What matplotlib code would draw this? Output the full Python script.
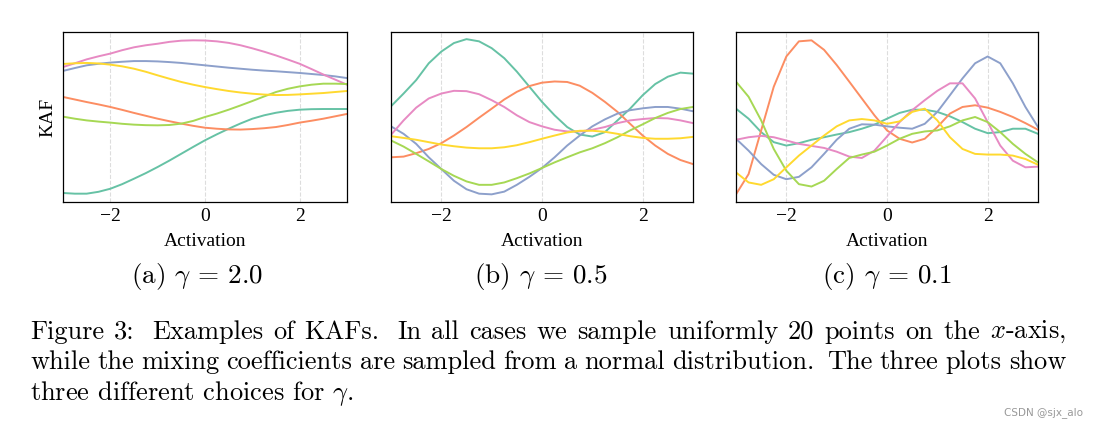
import numpy as np
import matplotlib
matplotlib.use("Agg")
import matplotlib.pyplot as plt

plt.rcParams['mathtext.fontset'] = 'cm'
plt.rcParams['axes.unicode_minus'] = True

# sampled x positions (read every 0.25 on the Activation axis)
x_vals = np.linspace(-3, 3, 25)

colors = ['#66c2a5', '#fc8d62', '#8da0cb', '#e78ac3', '#a6d854', '#ffd92f']

# panel (a) gamma = 2.0 -- values on a 0..100 scale of the box height
a_teal = [5.3, 4.9, 4.9, 6.0, 7.8, 10.5, 13.7, 17.0, 20.6, 24.4, 28.4, 32.4, 36.3,
          39.8, 43.1, 46.2, 49.0, 51.0, 52.5, 53.6, 54.3, 54.6, 54.7, 54.7, 54.7]
a_orange = [61.8, 60.3, 58.8, 57.4, 55.9, 54.2, 52.4, 50.7, 49.0, 47.5, 46.1, 44.8, 43.7,
            43.1, 42.7, 42.6, 42.9, 43.4, 44.1, 45.3, 46.7, 47.8, 49.0, 50.4, 51.8]
a_blue = [77.1, 78.8, 80.4, 81.3, 82.0, 82.5, 82.9, 82.9, 82.7, 82.3, 81.8, 81.1, 80.4,
          79.7, 79.0, 78.4, 77.8, 77.3, 76.9, 76.4, 75.9, 75.3, 74.7, 73.9, 72.9]
a_pink = [79.4, 81.6, 83.9, 85.7, 87.3, 89.3, 91.0, 92.2, 93.1, 94.2, 94.9, 95.1, 95.0,
          94.5, 93.6, 92.2, 90.4, 88.4, 86.2, 83.8, 81.3, 78.2, 75.0, 72.0, 69.0]
a_green = [50.2, 49.0, 48.0, 47.3, 46.7, 46.0, 45.5, 45.2, 45.1, 45.3, 46.1, 47.7, 50.0,
           52.0, 54.3, 56.8, 59.4, 62.1, 64.7, 66.6, 68.0, 69.0, 69.6, 69.6, 69.4]
a_yellow = [81.2, 81.6, 81.8, 81.5, 80.8, 79.8, 78.4, 76.6, 74.5, 72.5, 70.6, 69.0, 67.6,
            66.4, 65.3, 64.4, 63.7, 63.2, 62.9, 63.0, 63.3, 63.7, 64.1, 64.7, 65.3]

# panel (b) gamma = 0.5
b_teal = [56.3, 63.8, 71.7, 81.6, 88.5, 93.5, 95.8, 94.5, 90.5, 84.6, 76.7, 67.8, 58.9,
          51.0, 44.1, 39.7, 38.5, 41.1, 48.0, 54.9, 62.8, 69.4, 73.7, 76.1, 75.5]
b_orange = [26.3, 26.7, 28.7, 31.2, 34.6, 39.1, 44.1, 49.6, 54.9, 60.3, 64.8, 68.2, 70.2,
            70.9, 70.6, 68.4, 64.2, 58.9, 53.0, 46.0, 39.1, 33.2, 28.3, 24.7, 22.3]
b_blue = [44.5, 40.1, 34.2, 26.3, 19.4, 12.5, 7.5, 4.9, 4.5, 6.1, 10.1, 14.8, 20.0,
          26.3, 33.2, 39.1, 44.5, 48.6, 52.0, 54.0, 55.1, 55.9, 55.9, 54.9, 53.4]
b_pink = [39.5, 48.0, 55.5, 60.9, 63.8, 65.4, 65.2, 63.4, 59.9, 55.9, 51.0, 47.0, 44.5,
          42.5, 41.5, 41.5, 42.5, 44.1, 46.4, 48.0, 48.8, 49.4, 49.2, 48.0, 46.4]
b_green = [36.2, 32.6, 28.3, 23.9, 19.4, 15.4, 12.1, 10.1, 10.1, 11.5, 14.0, 16.8, 20.0,
           23.3, 26.3, 29.2, 31.6, 34.6, 38.1, 42.1, 45.7, 49.4, 52.4, 54.7, 55.9]
b_yellow = [38.7, 37.7, 36.6, 35.2, 33.8, 32.8, 32.0, 31.6, 31.6, 32.2, 33.4, 35.2, 37.2,
            39.1, 40.9, 41.9, 41.9, 41.3, 40.1, 38.7, 37.7, 37.2, 37.2, 37.5, 38.3]

# panel (c) gamma = 0.1
c_teal = [54.9, 49.0, 41.1, 35.2, 33.2, 34.6, 36.6, 38.1, 39.7, 41.1, 43.1, 45.5, 49.0,
          52.4, 54.3, 54.3, 53.0, 50.4, 47.0, 43.1, 40.5, 41.1, 43.1, 43.1, 40.1]
c_orange = [4.5, 16.4, 42.1, 67.8, 85.6, 94.5, 95.1, 89.5, 80.6, 70.8, 60.9, 51.0, 42.1,
            37.2, 35.0, 37.2, 44.1, 52.0, 55.9, 56.9, 55.5, 53.0, 50.0, 46.4, 42.5]
c_blue = [37.2, 30.2, 22.3, 16.0, 13.4, 14.8, 20.4, 28.3, 36.6, 43.1, 45.7, 45.5, 44.5,
          43.7, 43.1, 46.0, 53.0, 62.8, 72.7, 81.6, 85.6, 81.6, 69.8, 55.9, 44.1]
c_pink = [36.6, 38.1, 38.9, 38.1, 36.2, 34.2, 33.0, 31.8, 29.6, 26.7, 25.9, 30.2, 38.5,
          47.0, 54.0, 59.9, 65.4, 69.8, 69.8, 60.9, 47.0, 33.2, 24.3, 20.4, 20.8]
c_green = [70.8, 61.9, 48.0, 31.2, 18.4, 10.5, 9.1, 12.5, 19.4, 25.9, 27.9, 29.6, 33.2,
           37.2, 40.1, 41.5, 42.1, 44.5, 48.0, 50.0, 47.0, 41.1, 34.2, 28.3, 23.3]
c_yellow = [17.4, 11.5, 10.1, 13.4, 20.4, 27.3, 33.2, 39.1, 44.5, 48.0, 48.8, 48.0, 46.0,
            47.4, 53.0, 54.9, 48.0, 38.1, 31.2, 28.3, 27.9, 27.9, 27.3, 25.3, 21.9]

panels = [
    [a_teal, a_orange, a_blue, a_pink, a_green, a_yellow],
    [b_teal, b_orange, b_blue, b_pink, b_green, b_yellow],
    [c_teal, c_orange, c_blue, c_pink, c_green, c_yellow],
]
sub_captions = [r'(a) $\gamma$ = 2.0', r'(b) $\gamma$ = 0.5', r'(c) $\gamma$ = 0.1']

fig = plt.figure(figsize=(10.98, 4.32), dpi=100)
W, H = 1098, 432
boxes = [(63, 347), (391, 693), (736, 1038)]
box_top, box_bot = 32, 202

for i, (l, r) in enumerate(boxes):
    ax = fig.add_axes([l / W, 1 - box_bot / H, (r - l) / W, (box_bot - box_top) / H])
    for series, c in zip(panels[i], colors):
        ax.plot(x_vals, series, color=c, linewidth=1.4, solid_joinstyle='round')
    ax.set_xlim(-3, 3)
    ax.set_ylim(0, 100)
    ax.set_xticks([-2, 0, 2])
    ax.set_yticks([])
    ax.grid(axis='x', linestyle='--', color='#dddddd', linewidth=0.8)
    ax.tick_params(axis='x', length=0, pad=4, labelsize=14)
    for lab in ax.get_xticklabels():
        lab.set_family('Liberation Serif')
    for sp in ax.spines.values():
        sp.set_linewidth(0.9)
        sp.set_color('black')
    ax.set_xlabel('Activation', family='Liberation Serif', fontsize=14, labelpad=6)
    if i == 0:
        ax.set_ylabel('KAF', family='Liberation Serif', fontsize=14, labelpad=5)
    cx = [197, 541, 887][i]
    fig.text(cx / W, 1 - 276 / H, sub_captions[i], family='cmr10', fontsize=19.5,
             ha='center', va='center')

caption = [
    r'Figure 3: Examples of KAFs. In all cases we sample uniformly 20 points on the $x$-axis,',
    r'while the mixing coefficients are sampled from a normal distribution. The three plots show',
    r'three different choices for $\gamma$.',
]
cap_left, cap_right = 30, 1066
renderer = fig.canvas.get_renderer()
for k, line in enumerate(caption):
    y = 1 - (332 + 30.5 * k) / H
    if k == len(caption) - 1:
        fig.text(cap_left / W, y, line, family='cmr10', fontsize=19, ha='left', va='center')
        continue
    # justified line, with wider gaps after sentence ends (like TeX)
    words = line.split(' ')
    texts = [fig.text(0, y, w, family='cmr10', fontsize=19, ha='left', va='center')
             for w in words]
    widths = [t.get_window_extent(renderer).width for t in texts]
    weights = [1.7 if w[-1] in '.:' else 1.0 for w in words[:-1]]
    unit = (cap_right - cap_left - sum(widths)) / sum(weights)
    xpos = cap_left
    for j, (t, w) in enumerate(zip(texts, widths)):
        t.set_x(xpos / W)
        if j < len(weights):
            xpos += w + unit * weights[j]

fig.text(1083 / W, 1 - 413 / H, 'CSDN @sjx_alo', fontsize=7.5, color='#999999',
         ha='right', va='center')

fig.savefig('out.png', dpi=100)
